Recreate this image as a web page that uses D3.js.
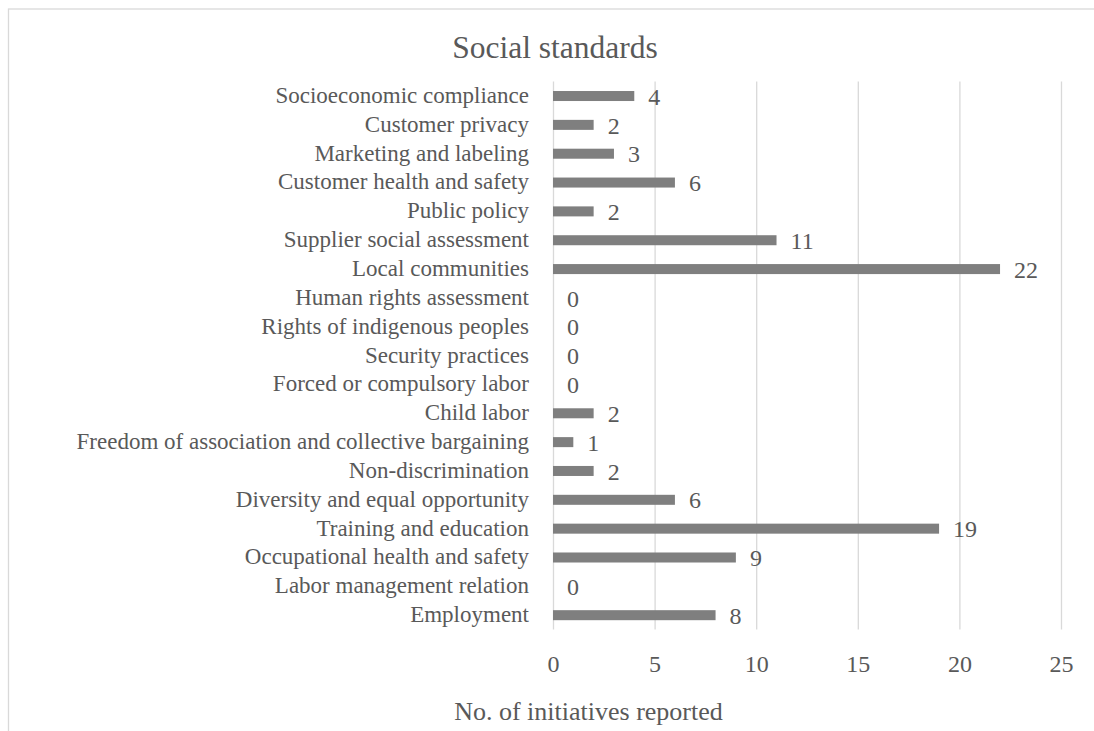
<!DOCTYPE html>
<html>
<head>
<meta charset="utf-8">
<script src="https://cdn.jsdelivr.net/npm/d3@7"></script>
<style>
  body { margin: 0; background: #fff; }
  svg { display: block; }
  text { font-family: "Liberation Serif", "Times New Roman", serif; fill: #595959; }
</style>
</head>
<body>
<div id="chart"></div>
<script>
      // DATA (top to bottom, as shown)
      var categories = [
        "Socioeconomic compliance",
        "Customer privacy",
        "Marketing and labeling",
        "Customer health and safety",
        "Public policy",
        "Supplier social assessment",
        "Local communities",
        "Human rights assessment",
        "Rights of indigenous peoples",
        "Security practices",
        "Forced or compulsory labor",
        "Child labor",
        "Freedom of association and collective bargaining",
        "Non-discrimination",
        "Diversity and equal opportunity",
        "Training and education",
        "Occupational health and safety",
        "Labor management relation",
        "Employment"
      ];
      var values = [4, 2, 3, 6, 2, 11, 22, 0, 0, 0, 0, 2, 1, 2, 6, 19, 9, 0, 8];
      var xTicks = [0, 5, 10, 15, 20, 25];

      var chartTitle = "Social standards";
      var axisTitle = "No. of initiatives reported";

      var width = 1094, height = 731;
      var plot = { left: 553, right: 1061, top: 81.6, bottom: 629.6 };

      var svg = d3
        .select("#chart")
        .append("svg")
        .attr("width", width)
        .attr("height", height)
      ;

      // chart border (runs off the right and bottom of the picture)
      svg.append("rect")
        .attr("x", 8.5)
        .attr("y", 9)
        .attr("width", 1200)
        .attr("height", 1000)
        .attr("fill", "none")
        .attr("stroke", "#d9d9d9")
        .attr("stroke-width", 1.3)
      ;

      var x = d3.scaleLinear()
        .domain([0, 25])
        .range([plot.left, plot.right])
      ;

      var y = d3.scaleBand()
        .domain(categories)
        .range([plot.top, plot.bottom])
        .paddingInner(0.653)
        .paddingOuter(0.3265)
      ;

      // gridlines + tick labels
      var xAxis = svg.append("g")
        .attr("transform", "translate(0," + plot.bottom + ")")
        .call(d3.axisBottom(x)
          .tickValues(xTicks)
          .tickSize(-(plot.bottom - plot.top))
          .tickPadding(25.5)
        )
      ;
      xAxis.select(".domain").remove();
      xAxis.selectAll(".tick line")
        .attr("stroke", "#d9d9d9")
        .attr("stroke-width", 1.3)
      ;
      xAxis.selectAll(".tick text")
        .style("font-family", "'Liberation Serif', serif")
        .style("font-size", "24px")
        .attr("fill", "#595959")
      ;

      // bars
      svg.append("g")
        .selectAll("rect")
        .data(values)
        .enter()
        .append("rect")
        .attr("x", x(0))
        .attr("y", function(d, i) { return y(categories[i]); })
        .attr("width", function(d) { return x(d) - x(0); })
        .attr("height", y.bandwidth())
        .attr("fill", "#7f7f7f")
      ;

      // value labels
      svg.append("g")
        .selectAll("text")
        .data(values)
        .enter()
        .append("text")
        .attr("x", function(d) { return x(d) + 14; })
        .attr("y", function(d, i) { return y(categories[i]) + y.bandwidth() / 2; })
        .attr("dy", "0.36em")
        .style("font-size", "24px")
        .text(function(d) { return d; })
      ;

      // category labels
      svg.append("g")
        .selectAll("text")
        .data(categories)
        .enter()
        .append("text")
        .attr("x", 529)
        .attr("y", function(d) { return y(d) + y.bandwidth() / 2; })
        .attr("dy", "0.3em")
        .attr("text-anchor", "end")
        .style("font-size", "23px")
        .text(function(d) { return d; })
      ;

      // titles
      svg.append("text")
        .attr("x", 555)
        .attr("y", 58)
        .attr("text-anchor", "middle")
        .style("font-size", "31.5px")
        .text(chartTitle)
      ;

      svg.append("text")
        .attr("x", 588.5)
        .attr("y", 720)
        .attr("text-anchor", "middle")
        .style("font-size", "26px")
        .text(axisTitle)
      ;
</script>
</body>
</html>
